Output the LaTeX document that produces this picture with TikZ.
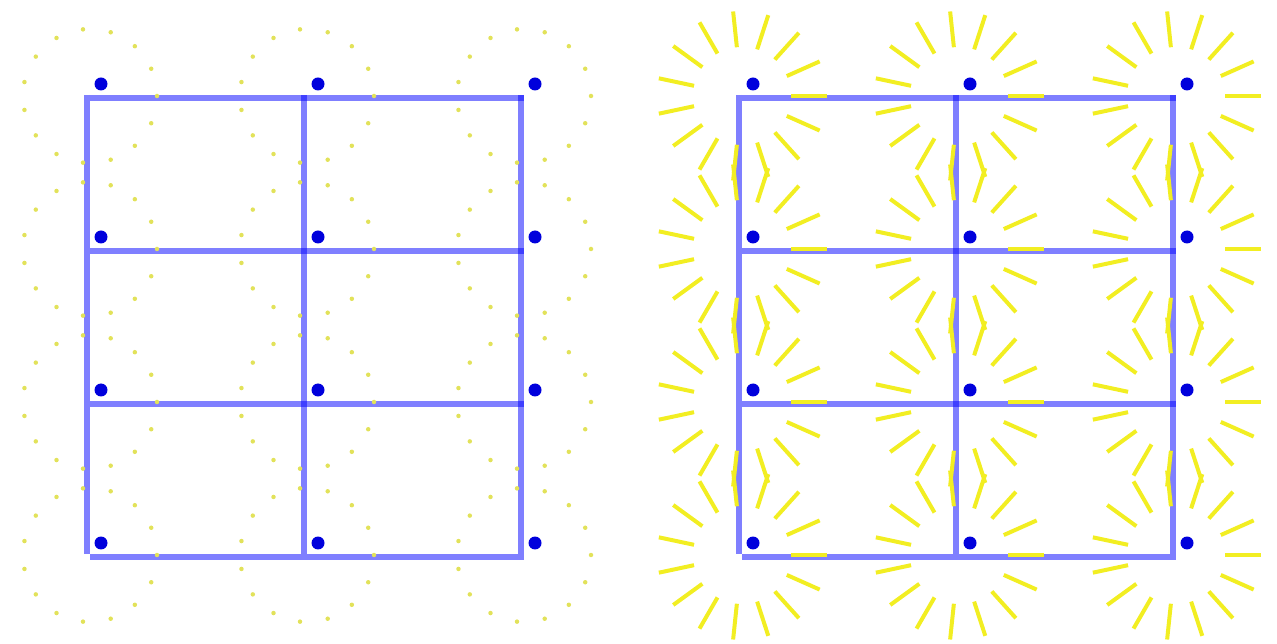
\documentclass[tikz,border=0pt]{standalone}
\usepackage{tikz}
\usepackage{xcolor}
\definecolor{gridblue}{HTML}{0000FF}
\definecolor{vertexblue}{HTML}{0000DC}
\definecolor{sunyellow}{HTML}{F2EE22}
\definecolor{dimyellow}{HTML}{E2E25A}

\begin{document}
\begin{tikzpicture}[
    x=0.02cm, y=-0.02cm,
    gridline/.style={draw=gridblue, opacity=0.5, line width=0.12cm},
    vertex/.style={circle, fill=vertexblue, inner sep=0pt, minimum size=0.26cm},
    ray/.style={draw=sunyellow, line width=0.08cm},
    raydot/.style={fill=dimyellow},
]
    \useasboundingbox (0,0) rectangle (1277,644);

    % Grid corners, left and right panel
    \foreach \pn/\ox in {L/0, R/652} {
        \foreach \i in {0,1,2} {
            \foreach \j in {0,1,2,3} {
                \coordinate (\pn-\i-\j) at ({87+\ox+217*\i}, {98+153*\j});
            }
        }
    }

    % Grid lines
    \foreach \pn in {L, R} {
        \foreach \j in {0,1,2,3}
            \draw[gridline] ([shift={(3,0)}]\pn-0-\j) -- ([shift={(3,0)}]\pn-2-\j);
        \foreach \i in {0,1,2}
            \draw[gridline] ([shift={(0,-3)}]\pn-\i-0) -- ([shift={(0,-3)}]\pn-\i-3);
    }

    % Left: dotted rings
    \foreach \i in {0,1,2} {
        \foreach \j in {0,1,2,3} {
            \begin{scope}[shift={(L-\i-\j)}, shift={(3,-2)}]
                \foreach \a in {0,24,...,336}
                    \fill[raydot] (\a:67) circle[radius=0.045cm];
            \end{scope}
        }
    }

    % Right: sunbursts
    \foreach \i in {0,1,2} {
        \foreach \j in {0,1,2,3} {
            \begin{scope}[shift={(R-\i-\j)}, shift={(3,-2)}]
                \foreach \a in {0,24,...,336}
                    \draw[ray] (\a:49) -- (\a:85);
            \end{scope}
        }
    }

    % Vertices
    \foreach \pn in {L, R} {
        \foreach \i in {0,1,2} {
            \foreach \j in {0,1,2,3}
                \node[vertex] (v\pn-\i-\j) at ([shift={(14,-14)}]\pn-\i-\j) {};
        }
    }
\end{tikzpicture}
\end{document}
